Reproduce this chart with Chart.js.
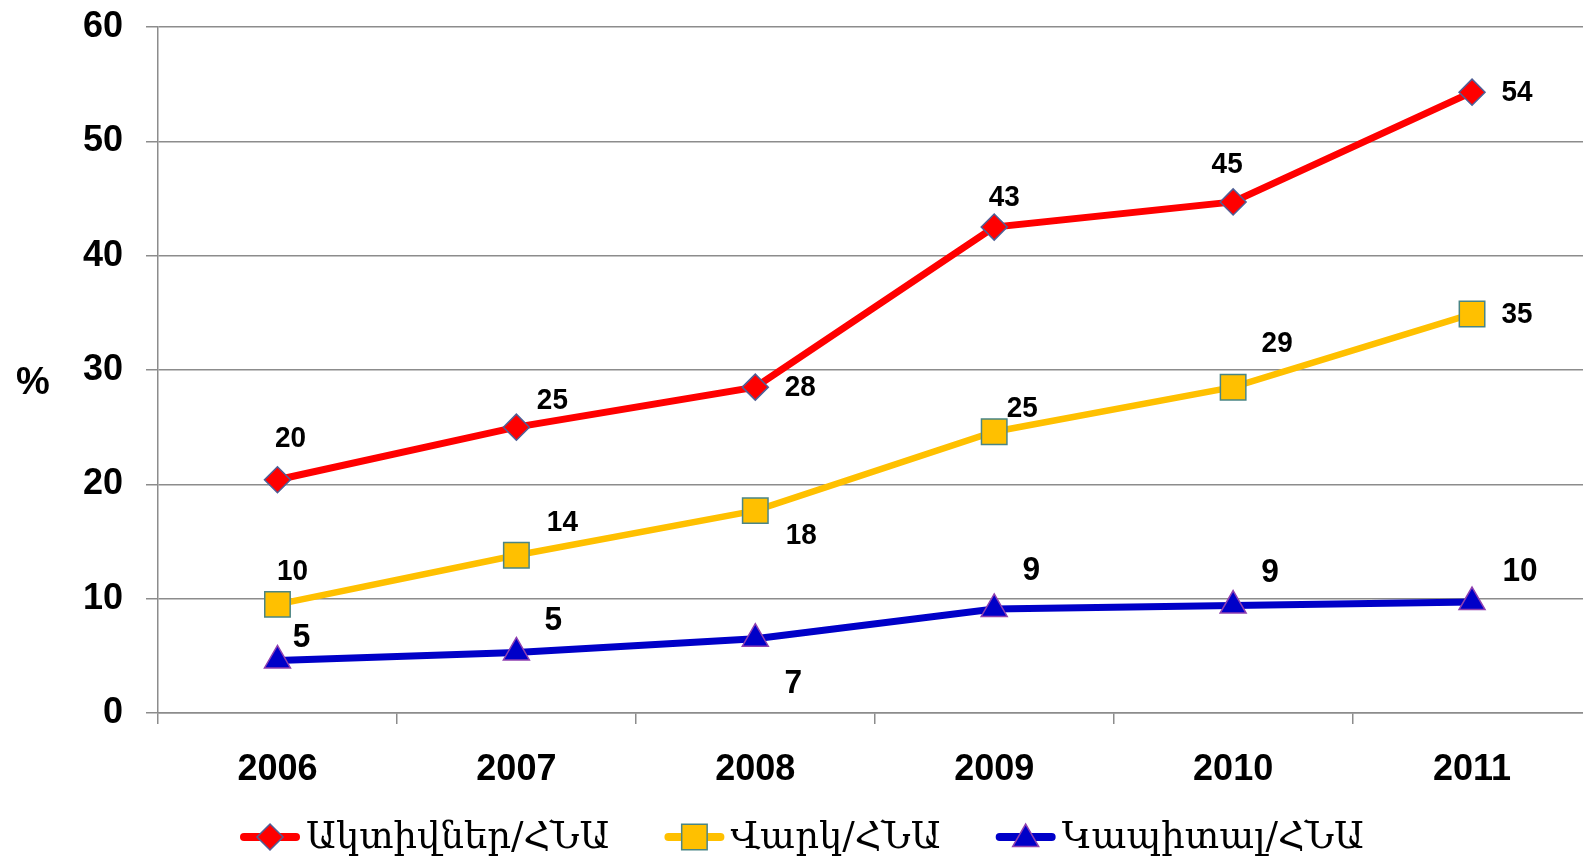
<!DOCTYPE html>
<html>
<head>
<meta charset="utf-8">
<script src="https://cdn.jsdelivr.net/npm/chart.js@4.4.1/dist/chart.umd.min.js"></script>
<style>
  html, body { margin: 0; padding: 0; background: #fff; overflow: hidden; }
  #wrap { width: 1611px; height: 868px; }
</style>
</head>
<body>
<div id="wrap"><canvas id="c" width="1611" height="868"></canvas></div>
<script>
// ---- data ----
const categories = ['2006', '2007', '2008', '2009', '2010', '2011'];
const assetsGDP  = [20.4, 25.0, 28.5, 42.5, 44.7, 54.3];
const loansGDP   = [9.5, 13.8, 17.7, 24.6, 28.5, 34.9];
const capitalGDP = [4.6, 5.3, 6.5, 9.1, 9.4, 9.7];
const assetsLabels  = ['20', '25', '28', '43', '45', '54'];
const loansLabels   = ['10', '14', '18', '25', '29', '35'];
const capitalLabels = ['5', '5', '7', '9', '9', '10'];
const seriesNames = ['Ակտիվներ/ՀՆԱ', 'Վարկ/ՀՆԱ', 'Կապիտալ/ՀՆԱ'];
const yTicks = [0, 10, 20, 30, 40, 50, 60];
const yAxisTitle = '%';

// label offsets (pixels) relative to each point, and label font sizes per series
const labelOffsets = [
  [[13,-41],[36,-26],[45,1],[10,-29],[-6,-37],[45,1]],
  [[15,-33],[46,-32],[46,25],[28,-23],[44,-43],[45,1]],
  [[24,-23],[37,-32],[38,45],[37,-38],[37,-33],[48,-30]]
];
const labelSizes = [30, 30, 34];

const RED = '#ff0000', YEL = '#ffc000', BLU = '#0000c8';
const GRID = '#8c8c8c';

const dataLabelPlugin = {
  id: 'dataLabels',
  afterDatasetsDraw(chart) {
    const ctx = chart.ctx;
    ctx.save();
    ctx.fillStyle = '#000';
    ctx.textAlign = 'center';
    ctx.textBaseline = 'middle';
    const sx = 0.93;
    chart.data.datasets.forEach((ds, i) => {
      ctx.font = 'bold ' + labelSizes[i] + 'px "Liberation Sans", Arial, sans-serif';
      const meta = chart.getDatasetMeta(i);
      meta.data.forEach((pt, j) => {
        const off = labelOffsets[i][j];
        ctx.save();
        ctx.translate(pt.x + off[0], pt.y + off[1]);
        ctx.scale(sx, 1);
        ctx.fillText(ds.valueLabels[j], 0, 0);
        ctx.restore();
      });
    });
    // y axis title, horizontal
    ctx.font = 'bold 38px "Liberation Sans", Arial, sans-serif';
    ctx.fillText(yAxisTitle, 33, 384);
    ctx.restore();
  }
};

const legendPlugin = {
  id: 'customLegend',
  afterDraw(chart) {
    const ctx = chart.ctx;
    ctx.save();
    const font = '37px "DejaVu Serif", serif';
    ctx.font = font;
    const sampleW = 60, gapText = 6, gapItem = 55;
    const ds = chart.data.datasets;
    const widths = ds.map(d => ctx.measureText(d.label).width);
    let total = 0;
    widths.forEach((w, i) => { total += sampleW + gapText + w + (i < widths.length - 1 ? gapItem : 0); });
    let x = 802 - total / 2;
    const y = 837;
    ds.forEach((d, i) => {
      // line
      ctx.strokeStyle = d.borderColor;
      ctx.lineWidth = 8;
      ctx.lineCap = 'round';
      ctx.beginPath();
      ctx.moveTo(x + 4, y);
      ctx.lineTo(x + sampleW - 4, y);
      ctx.stroke();
      // marker
      ctx.fillStyle = d.pointBackgroundColor;
      ctx.strokeStyle = d.pointBorderColor;
      ctx.lineWidth = d.pointBorderWidth;
      Chart.helpers.drawPoint(ctx, {
        pointStyle: d.pointStyle, radius: d.pointRadius, borderWidth: d.pointBorderWidth, rotation: 0
      }, x + sampleW / 2, y + (d.pointStyle === 'triangle' ? 2 : 0));
      // text
      ctx.fillStyle = '#000';
      ctx.font = font;
      ctx.textAlign = 'left';
      ctx.textBaseline = 'alphabetic';
      ctx.fillText(d.label, x + sampleW + gapText, 848);
      x += sampleW + gapText + widths[i] + gapItem;
    });
    ctx.restore();
  }
};

const chart = new Chart(document.getElementById('c'), {
  type: 'line',
  data: {
    labels: categories,
    datasets: [
      {
        label: seriesNames[0], data: assetsGDP, valueLabels: assetsLabels,
        borderColor: RED, backgroundColor: RED, borderWidth: 7,
        pointStyle: 'rectRot', pointRadius: 13, pointHoverRadius: 13,
        pointBackgroundColor: RED, pointBorderColor: '#4f5f96', pointBorderWidth: 1.5,
        tension: 0, fill: false
      },
      {
        label: seriesNames[1], data: loansGDP, valueLabels: loansLabels,
        borderColor: YEL, backgroundColor: YEL, borderWidth: 6.5,
        pointStyle: 'rect', pointRadius: 18, pointHoverRadius: 18,
        pointBackgroundColor: YEL, pointBorderColor: '#4a8585', pointBorderWidth: 1.5,
        tension: 0, fill: false
      },
      {
        label: seriesNames[2], data: capitalGDP, valueLabels: capitalLabels,
        borderColor: BLU, backgroundColor: BLU, borderWidth: 7,
        pointStyle: 'triangle', pointRadius: 15, pointHoverRadius: 15,
        pointBackgroundColor: BLU, pointBorderColor: '#9040b0', pointBorderWidth: 1.5,
        tension: 0, fill: false
      }
    ]
  },
  options: {
    responsive: false,
    animation: false,
    layout: { padding: { left: 0, right: 9, top: 27, bottom: 75 } },
    plugins: {
      legend: { display: false },
      tooltip: { enabled: false },
      title: { display: false }
    },
    scales: {
      x: {
        type: 'category',
        offset: true,
        grid: {
          display: true, drawOnChartArea: false, drawTicks: true,
          tickLength: 11, offset: true, color: GRID, lineWidth: 1.5
        },
        border: { display: true, color: GRID, width: 1.5 },
        ticks: {
          color: '#000', padding: 24, maxRotation: 0, autoSkip: false,
          font: { family: '"Liberation Sans", Arial, sans-serif', size: 36, weight: 'bold' }
        },
        afterFit(scale) {
          scale.height = 80;
          scale.paddingLeft = 0; scale.paddingRight = 0;
        }
      },
      y: {
        min: 0, max: 60,
        afterBuildTicks(scale) { scale.ticks = yTicks.map(v => ({ value: v })); },
        grid: { color: GRID, lineWidth: 1.5, tickLength: 12, drawTicks: true },
        border: { display: true, color: GRID, width: 1.5 },
        ticks: {
          color: '#000', padding: 23,
          font: { family: '"Liberation Sans", Arial, sans-serif', size: 36, weight: 'bold' }
        },
        afterFit(scale) {
          scale.width = 158;
          scale.paddingTop = 0; scale.paddingBottom = 0;
        }
      }
    }
  },
  plugins: [dataLabelPlugin, legendPlugin]
});
</script>
</body>
</html>
